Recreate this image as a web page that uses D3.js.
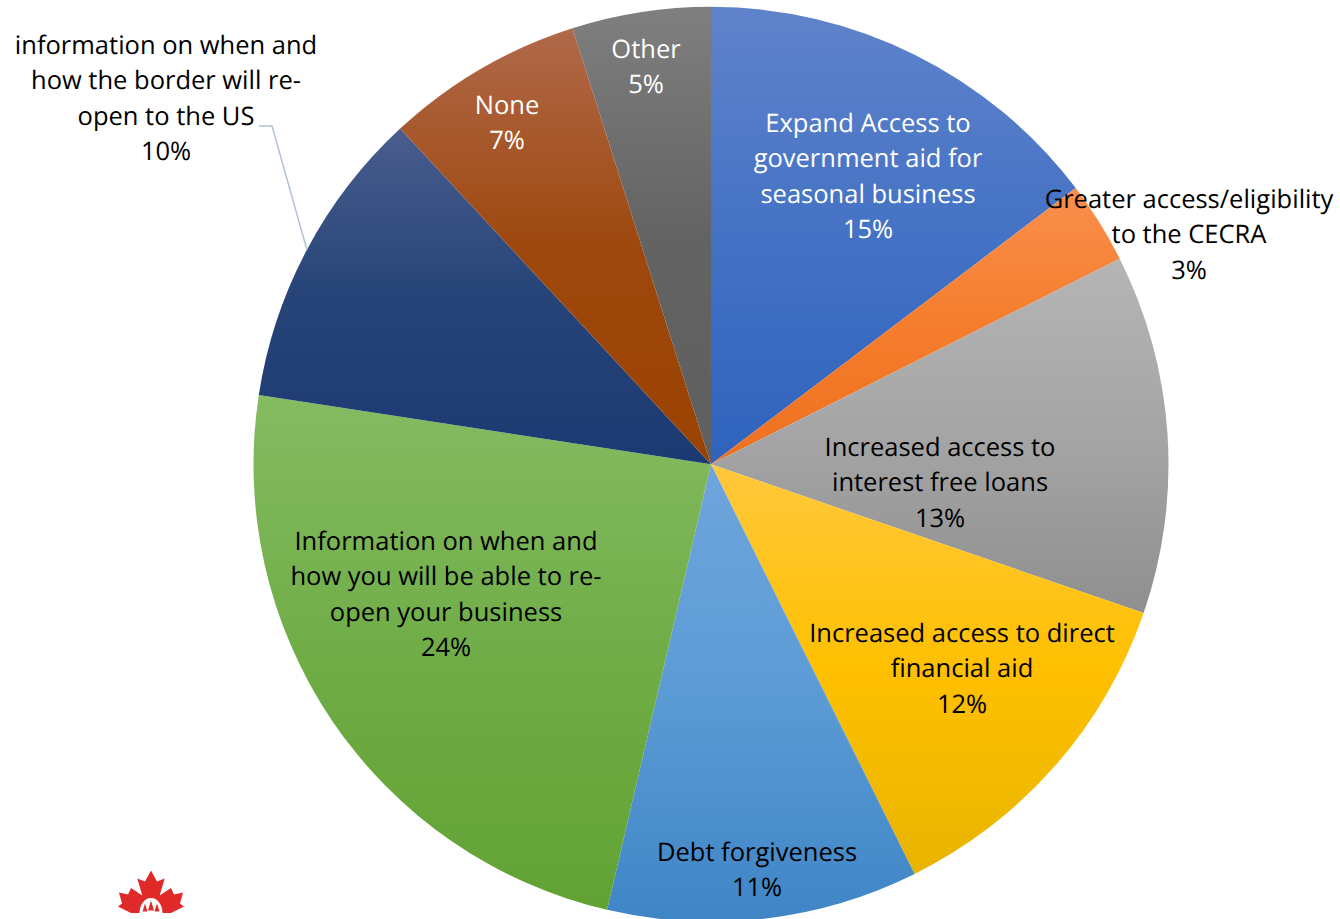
<!DOCTYPE html>
<html>
<head>
<meta charset="utf-8">
<script src="https://cdn.jsdelivr.net/npm/d3@7"></script>
<style>
  html, body { margin: 0; padding: 0; background: #fff; overflow: hidden; }
  text { font-family: "Open Sans", sans-serif; font-size: 25.5px; text-rendering: geometricPrecision; }
</style>
</head>
<body>
<div id="chart"></div>
<script>
const categories = [
  ['Expand Access to', 'government aid for', 'seasonal business'],
  ['Greater access/eligibility', 'to the CECRA'],
  ['Increased access to', 'interest free loans'],
  ['Increased access to direct', 'financial aid'],
  ['Debt forgiveness'],
  ['Information on when and', 'how you will be able to re-', 'open your business'],
  ['information on when and', 'how the border will re-', 'open to the US'],
  ['None'],
  ['Other']
];
// slice sizes, the printed labels are rounded
const values = [14.7, 2.9, 12.7, 12.4, 11.0, 23.8, 10.7, 7.0, 4.9];
const percentLabels = ['15%', '3%', '13%', '12%', '11%', '24%', '10%', '7%', '5%'];
const colorTop = ['#6083cb', '#f98f4d', '#b5b5b5', '#ffc83d', '#6fa5dc', '#85bb62', '#4a5d8e', '#b0694a', '#7f7f7f'];
const colorMid = ['#4472c4', '#f57d2c', '#a5a5a5', '#ffc000', '#5b9bd5', '#70ad47', '#264478', '#9e480e', '#636363'];
const colorBottom = ['#2f63bd', '#ed7020', '#8f8f8f', '#e8b400', '#3f85c6', '#62a233', '#1c3a72', '#9a4200', '#5f5f5f'];
const labelColors = ['#fff', '#000', '#000', '#000', '#000', '#000', '#000', '#fff', '#fff'];
const labelPos = [[868, 123], [1189, 199], [940, 447], [962, 633], [757, 852], [446, 541], [166, 45], [507, 105], [646, 49]];

const width = 1340, height = 919;
const cx = 711, cy = 464.3, radius = 457.5;

const svg = d3.select('#chart').append('svg')
  .attr('width', width)
  .attr('height', height);

const defs = svg.append('defs');
values.forEach((v, i) => {
  const grad = defs.append('linearGradient')
    .attr('id', `grad-${i}`)
    .attr('x1', 0).attr('y1', 0).attr('x2', 0).attr('y2', 1);
  grad.append('stop').attr('offset', '0%').attr('stop-color', colorTop[i]);
  grad.append('stop').attr('offset', '50%').attr('stop-color', colorMid[i]);
  grad.append('stop').attr('offset', '100%').attr('stop-color', colorBottom[i]);
});

const pie = d3.pie().sort(null).value(d => d);
const arc = d3.arc().innerRadius(0).outerRadius(radius);

svg.append('g')
  .attr('transform', `translate(${cx},${cy})`)
  .selectAll('path')
  .data(pie(values))
  .join('path')
  .attr('d', arc)
  .attr('fill', (d, i) => `url(#grad-${i})`);

// Leader line for the border slice
svg.append('path')
  .attr('d', d3.line()([[307, 250], [272, 126], [259, 126]]))
  .attr('fill', 'none')
  .attr('stroke', '#b4c2d6')
  .attr('stroke-width', 1.5);

const labels = svg.append('g')
  .selectAll('text')
  .data(categories)
  .join('text')
  .attr('text-anchor', 'middle')
  .attr('fill', (d, i) => labelColors[i])
  .attr('transform', (d, i) => `translate(${labelPos[i][0]},${labelPos[i][1]})`);

labels.each(function(lines, i) {
  const t = d3.select(this);
  lines.concat(percentLabels[i]).forEach((line, j) => {
    t.append('tspan')
      .attr('x', 0)
      .attr('y', j * 35.5)
      .attr('dy', '0.35em')
      .text(line);
  });
});

// Maple leaf logo, bottom left
const logo = svg.append('g').attr('transform', 'translate(151,870.5)');
logo.append('path')
  .attr('d', 'M0,0 L6,11 L13.7,8 L8.7,25 L20,17.5 L23,24 L32,22 L29,33 L33,36 L20,42.5 L-20,42.5 L-33,36 L-29,33 L-32,22 L-23,24 L-20,17.5 L-8.7,25 L-13.7,8 L-6,11 Z')
  .attr('fill', '#e02a2a');
logo.append('path')
  .attr('d', 'M-11.5,42.5 A11.5,15 0 0 1 11.5,42.5 Z')
  .attr('fill', '#fff');
logo.append('path')
  .attr('d', 'M0,30 L3,40 L-3,40 Z M-6,33 L-3.5,41 L-8.5,41 Z M6,33 L8.5,41 L3.5,41 Z')
  .attr('fill', '#e02a2a');
</script>
</body>
</html>
